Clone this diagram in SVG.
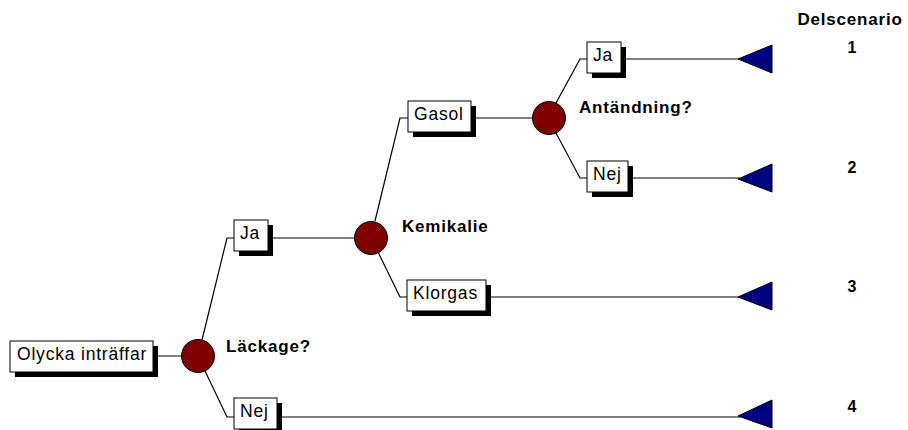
<svg xmlns="http://www.w3.org/2000/svg" width="908" height="430" viewBox="0 0 908 430">
  <style>
    .edge { fill: none; stroke: #000; stroke-width: 1.2; }
    .box { fill: #fff; stroke: #000; stroke-width: 1; }
    .shadow { fill: #000; }
    .chance { fill: #7f0000; stroke: #000; stroke-width: 1; }
    .end { fill: #000080; stroke: #000; stroke-width: 1; }
    .lbl { font-family: "Liberation Sans", Arial, sans-serif; font-size: 17.5px; letter-spacing: 0.8px; fill: #000; }
    .q { font-family: "Liberation Sans", Arial, sans-serif; font-size: 17px; font-weight: bold; letter-spacing: 0.8px; fill: #000; }
    .num { font-family: "Liberation Sans", Arial, sans-serif; font-size: 16px; font-weight: bold; fill: #000; text-anchor: middle; }
  </style>

  <!-- branches -->
  <g id="connectors">
    <polyline class="edge" points="153,356 198,356"/>
    <polyline class="edge" points="202,340 227,238 234,238"/>
    <polyline class="edge" points="205,371 227,417 234,417"/>
    <polyline class="edge" points="268,238 371,238"/>
    <polyline class="edge" points="375,221 400,118 408,118"/>
    <polyline class="edge" points="378,252 400,297 407,297"/>
    <polyline class="edge" points="471,118 549,118"/>
    <polyline class="edge" points="556,103 580,59 587,59"/>
    <polyline class="edge" points="556,133 580,178 587,178"/>
    <polyline class="edge" points="621,59 740,59"/>
    <polyline class="edge" points="628,178 740,178"/>
    <polyline class="edge" points="486,297 740,297"/>
    <polyline class="edge" points="277,417 740,417"/>
  </g>

  <!-- start -->
  <g id="start">
    <rect class="shadow" x="15" y="346" width="143" height="31"/>
    <rect class="box" x="10" y="341" width="143" height="31"/>
    <text class="lbl" x="17" y="360">Olycka inträffar</text>
  </g>

  <!-- chance nodes -->
  <g id="leak">
    <circle class="chance" cx="198" cy="356" r="16.5"/>
    <text class="q" x="226" y="352">Läckage?</text>
  </g>
  <g id="chemical">
    <circle class="chance" cx="371" cy="238" r="16.5"/>
    <text class="q" x="402" y="232">Kemikalie</text>
  </g>
  <g id="ignition">
    <circle class="chance" cx="549" cy="118" r="16.5"/>
    <text class="q" x="579" y="113">Antändning?</text>
  </g>

  <!-- branch labels -->
  <g id="leak-yes">
    <rect class="shadow" x="239" y="225" width="34" height="31"/>
    <rect class="box" x="234" y="220" width="34" height="31"/>
    <text class="lbl" x="240" y="239">Ja</text>
  </g>
  <g id="leak-no">
    <rect class="shadow" x="239" y="403" width="43" height="31"/>
    <rect class="box" x="234" y="398" width="43" height="31"/>
    <text class="lbl" x="240" y="417">Nej</text>
  </g>
  <g id="gas">
    <rect class="shadow" x="413" y="106" width="63" height="31"/>
    <rect class="box" x="408" y="101" width="63" height="31"/>
    <text class="lbl" x="414" y="120">Gasol</text>
  </g>
  <g id="chlorine">
    <rect class="shadow" x="412" y="285" width="79" height="31"/>
    <rect class="box" x="407" y="280" width="79" height="31"/>
    <text class="lbl" x="413" y="299">Klorgas</text>
  </g>
  <g id="ignition-yes">
    <rect class="shadow" x="592" y="47" width="34" height="31"/>
    <rect class="box" x="587" y="42" width="34" height="31"/>
    <text class="lbl" x="593" y="61">Ja</text>
  </g>
  <g id="ignition-no">
    <rect class="shadow" x="592" y="166" width="41" height="31"/>
    <rect class="box" x="587" y="161" width="41" height="31"/>
    <text class="lbl" x="593" y="180">Nej</text>
  </g>

  <!-- end nodes -->
  <g id="end1"><polygon class="end" points="738,59 772,45 772,73"/></g>
  <g id="end2"><polygon class="end" points="738,179 772,164 772,192"/></g>
  <g id="end3"><polygon class="end" points="738,297 772,282 772,310"/></g>
  <g id="end4"><polygon class="end" points="738,416 772,400 772,428"/></g>

  <!-- scenario column -->
  <g id="scenarios">
    <text class="num" x="850" y="25" style="font-size:17px;letter-spacing:0.8px">Delscenario</text>
    <text class="num" x="852" y="53">1</text>
    <text class="num" x="852" y="173">2</text>
    <text class="num" x="852" y="292">3</text>
    <text class="num" x="852" y="412">4</text>
  </g>
</svg>
